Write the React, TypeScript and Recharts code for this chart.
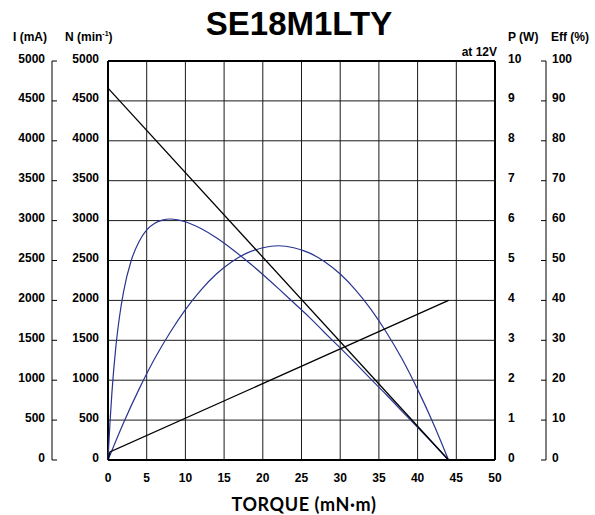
import React from 'react';
import { ComposedChart, Line, XAxis, YAxis, CartesianGrid, ReferenceLine } from 'recharts';

// ---- tick labels ----
const torqueTicks = [0, 5, 10, 15, 20, 25, 30, 35, 40, 45, 50];
const speedTicks = [0, 500, 1000, 1500, 2000, 2500, 3000, 3500, 4000, 4500, 5000];
const currentTicks = [0, 500, 1000, 1500, 2000, 2500, 3000, 3500, 4000, 4500, 5000];
const powerTicks = [0, 1, 2, 3, 4, 5, 6, 7, 8, 9, 10];
const effTicks = [0, 10, 20, 30, 40, 50, 60, 70, 80, 90, 100];

// ---- series ----
const speedTorque = [0, 44];
const speedValues = [4660, 0];

const currentTorque = [0, 0.25, 44];
const currentValues = [0, 100, 2000];

const powerTorque = [0, 2, 4, 6, 8, 10, 12, 14, 16, 18, 20, 22, 24, 26, 28, 30, 32, 34, 36, 38, 40, 42, 44];
const powerValues = [0, 0.93, 1.77, 2.53, 3.19, 3.77, 4.26, 4.66, 4.97, 5.19, 5.32, 5.37, 5.32, 5.19, 4.97, 4.66, 4.26, 3.77, 3.19, 2.53, 1.77, 0.93, 0];

const effTorque = [0, 0.25, 0.5, 1, 1.5, 2, 3, 4, 5, 6, 7, 8, 9, 10, 12, 14, 16, 18, 20, 22, 24, 26, 28, 30, 32, 34, 36, 38, 40, 42, 44];
const effValues = [0, 9.2, 16.7, 28.1, 36.1, 42.1, 50.0, 54.7, 57.7, 59.3, 60.1, 60.4, 60.2, 59.7, 58.0, 55.7, 52.9, 49.8, 46.5, 43.0, 39.4, 35.8, 31.9, 28.1, 24.2, 20.2, 16.3, 12.2, 8.2, 4.1, 0];

const zip = (xs: number[], ys: number[], key: string) => xs.map((t, i) => ({ t, [key]: ys[i] }));
const speedData = zip(speedTorque, speedValues, 'n');
const currentData = zip(currentTorque, currentValues, 'i');
const powerData = zip(powerTorque, powerValues, 'p');
const effData = zip(effTorque, effValues, 'eff');

// ---- layout / style ----
const W = 595;
const H = 515;
const PLOT_TOP = 61;
const PLOT_BOTTOM = 460;
const FONT = 'Liberation Sans, Arial, Helvetica, sans-serif';
const BLUE = '#28358f';
const tickFont: React.CSSProperties = { fontFamily: FONT, fontSize: 12, fontWeight: 700, fill: '#000' };

const LeftTick = (props: any) => {
  const { y, payload } = props;
  const idx = speedTicks.indexOf(payload.value);
  return (
    <g>
      <text x={99} y={y + 1.5} textAnchor="end" style={tickFont}>{speedTicks[idx]}</text>
      <text x={45} y={y + 1.5} textAnchor="end" style={tickFont}>{currentTicks[idx]}</text>
      <line x1={52} x2={57} y1={y} y2={y} stroke="#000" strokeWidth={1} />
      {idx === speedTicks.length - 1 && <line x1={52} x2={52} y1={y} y2={PLOT_BOTTOM} stroke="#000" strokeWidth={1} />}
    </g>
  );
};

const RightTick = (props: any) => {
  const { y, payload } = props;
  const idx = powerTicks.indexOf(payload.value);
  return (
    <g>
      <text x={508} y={y + 1.5} textAnchor="start" style={tickFont}>{powerTicks[idx]}</text>
      <text x={552} y={y + 1.5} textAnchor="start" style={tickFont}>{effTicks[idx]}</text>
      <line x1={541} x2={546} y1={y} y2={y} stroke="#000" strokeWidth={1} />
      {idx === powerTicks.length - 1 && <line x1={546} x2={546} y1={y} y2={PLOT_BOTTOM} stroke="#000" strokeWidth={1} />}
    </g>
  );
};

export default function App() {
  return (
    <div style={{ position: 'absolute', left: 0, top: 0, width: W, height: H, background: '#fff' }}>
      <ComposedChart width={W} height={H} margin={{ top: PLOT_TOP, right: 0, bottom: 25, left: 0 }}>
        <CartesianGrid stroke="#1a1a1a" strokeWidth={1} horizontal vertical />
        <XAxis
          dataKey="t"
          type="number"
          domain={[0, 50]}
          ticks={torqueTicks}
          height={30}
          tickLine={false}
          axisLine={false}
          tickSize={0}
          tickMargin={13}
          tick={tickFont}
          allowDuplicatedCategory={false}
        />
        <YAxis
          type="number"
          domain={[0, 5000]}
          ticks={speedTicks}
          width={108}
          tickLine={false}
          axisLine={false}
          tick={<LeftTick />}
          interval={0}
        />
        <YAxis
          yAxisId="p"
          orientation="right"
          type="number"
          domain={[0, 10]}
          ticks={powerTicks}
          width={100}
          tickLine={false}
          axisLine={false}
          tick={<RightTick />}
          interval={0}
        />
        <YAxis yAxisId="i" type="number" domain={[0, 5000]} hide />
        <YAxis yAxisId="eff" type="number" domain={[0, 100]} hide />

        <ReferenceLine x={0} stroke="#000" strokeWidth={2} />
        <ReferenceLine x={50} stroke="#000" strokeWidth={2} />
        <ReferenceLine y={0} stroke="#000" strokeWidth={2} />
        <ReferenceLine y={5000} stroke="#000" strokeWidth={2} />

        <Line data={powerData} dataKey="p" yAxisId="p" type="monotone" stroke={BLUE} strokeWidth={1.2} dot={false} isAnimationActive={false} />
        <Line data={effData} dataKey="eff" yAxisId="eff" type="monotone" stroke={BLUE} strokeWidth={1.2} dot={false} isAnimationActive={false} />
        <Line data={speedData} dataKey="n" type="linear" stroke="#000" strokeWidth={1.3} dot={false} isAnimationActive={false} />
        <Line data={currentData} dataKey="i" yAxisId="i" type="linear" stroke="#000" strokeWidth={1.3} dot={false} isAnimationActive={false} />
      </ComposedChart>
      <svg width={W} height={H} style={{ position: 'absolute', left: 0, top: 0, pointerEvents: 'none' }}>
        <text x={299} y={35} textAnchor="middle" style={{ fontFamily: FONT, fontSize: 33, fontWeight: 700 }}>SE18M1LTY</text>
        <text x={13} y={41} style={tickFont}>I (mA)</text>
        <text x={65} y={41} style={tickFont}>
          N (min<tspan fontSize={7} dy={-5}>-1</tspan><tspan dy={5}>)</tspan>
        </text>
        <text x={508} y={41} style={tickFont}>P (W)</text>
        <text x={551} y={41} style={tickFont}>Eff (%)</text>
        <text x={497} y={56} textAnchor="end" style={tickFont}>at 12V</text>
        <text x={304} y={511} textAnchor="middle" style={{ fontFamily: 'Lato, Open Sans, sans-serif', fontSize: 18, fontWeight: 700, letterSpacing: 0.6 }}>TORQUE (mN·m)</text>
      </svg>
    </div>
  );
}
